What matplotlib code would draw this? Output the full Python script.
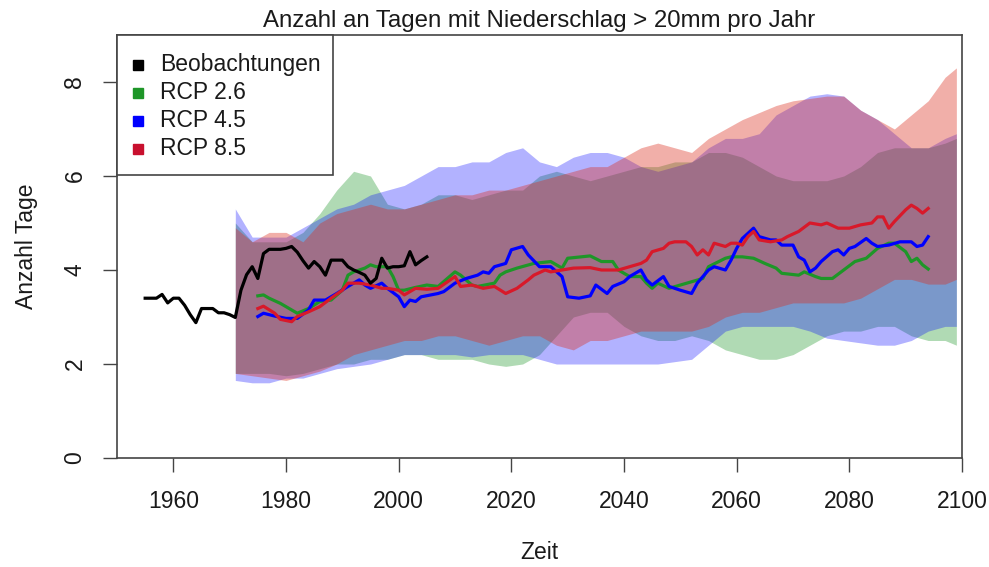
import numpy as np
import matplotlib
matplotlib.use("Agg")
import matplotlib.pyplot as plt
from matplotlib.patches import Rectangle

plt.rcParams['font.family'] = ['Liberation Sans', 'DejaVu Sans']

# ---------------- data ----------------
obs_years = list(range(1955, 2006))
obs_values = [3.40, 3.40, 3.40, 3.48, 3.30, 3.40, 3.40, 3.25, 3.05, 2.88,
              3.18, 3.18, 3.18, 3.09, 3.09, 3.05, 2.99, 3.57, 3.90, 4.07,
              3.82, 4.35, 4.44, 4.44, 4.44, 4.46, 4.50, 4.38, 4.20, 4.04,
              4.18, 4.07, 3.89, 4.21, 4.21, 4.21, 4.07, 4.00, 3.95, 3.89,
              3.72, 3.82, 4.25, 4.04, 4.07, 4.07, 4.09, 4.39, 4.11, 4.20, 4.28]

rcp26_years = [1975, 1976, 1977, 1979, 1981, 1982, 1984, 1986, 1988, 1990, 1991, 1992, 1994, 1995,
               1996, 1998, 1999, 2000, 2001, 2003, 2005, 2007, 2010, 2011, 2013, 2014, 2017, 2018,
               2019, 2021, 2024, 2027, 2029, 2030, 2034, 2036, 2038, 2039, 2041, 2043, 2044, 2045,
               2046, 2048, 2050, 2052, 2054, 2055, 2058, 2059, 2061, 2063, 2065, 2067, 2068, 2071,
               2072, 2074, 2075, 2077, 2079, 2081, 2083, 2085, 2087, 2088, 2090, 2091, 2092, 2093, 2094]
rcp26_values = [3.45, 3.47, 3.40, 3.29, 3.15, 3.08, 3.18, 3.33, 3.36, 3.57, 3.89, 3.96, 4.04, 4.11,
                4.07, 4.07, 3.86, 3.57, 3.57, 3.63, 3.68, 3.65, 3.96, 3.89, 3.68, 3.65, 3.72, 3.89,
                3.96, 4.04, 4.14, 4.18, 4.04, 4.25, 4.30, 4.18, 4.18, 4.00, 3.86, 3.86, 3.72, 3.61,
                3.72, 3.61, 3.68, 3.75, 3.82, 4.07, 4.25, 4.28, 4.28, 4.25, 4.14, 4.04, 3.93, 3.89,
                3.96, 3.86, 3.82, 3.82, 4.00, 4.18, 4.25, 4.46, 4.57, 4.57, 4.39, 4.18, 4.25, 4.11, 4.02]

rcp45_years = [1975, 1976, 1978, 1980, 1982, 1984, 1985, 1987, 1989, 1991, 1993, 1994, 1995, 1997,
               1998, 2000, 2001, 2002, 2003, 2004, 2007, 2008, 2010, 2012, 2014, 2015, 2016, 2017,
               2019, 2020, 2022, 2023, 2025, 2027, 2029, 2030, 2032, 2034, 2035, 2037, 2038, 2040,
               2041, 2043, 2044, 2045, 2047, 2048, 2050, 2052, 2053, 2055, 2056, 2058, 2059, 2060,
               2061, 2063, 2064, 2066, 2067, 2068, 2070, 2071, 2072, 2073, 2074, 2075, 2077, 2078,
               2079, 2080, 2081, 2083, 2084, 2085, 2087, 2089, 2091, 2092, 2093, 2094]
rcp45_values = [3.01, 3.08, 3.02, 2.97, 2.97, 3.15, 3.36, 3.36, 3.50, 3.65, 3.79, 3.68, 3.61, 3.72,
                3.61, 3.43, 3.22, 3.36, 3.33, 3.43, 3.50, 3.54, 3.72, 3.82, 3.89, 3.96, 3.93, 4.07,
                4.14, 4.43, 4.50, 4.32, 4.07, 4.07, 3.86, 3.43, 3.40, 3.45, 3.68, 3.50, 3.65, 3.75,
                3.86, 4.00, 3.79, 3.68, 3.86, 3.65, 3.57, 3.50, 3.72, 4.00, 4.07, 4.00, 4.21, 4.46,
                4.67, 4.89, 4.71, 4.64, 4.64, 4.53, 4.53, 4.28, 4.21, 3.96, 4.04, 4.18, 4.39, 4.43,
                4.32, 4.46, 4.50, 4.67, 4.57, 4.50, 4.53, 4.60, 4.60, 4.50, 4.53, 4.71]

rcp85_years = [1975, 1976, 1978, 1979, 1981, 1982, 1984, 1986, 1988, 1990, 1991, 1993, 1995, 1997,
               1998, 2000, 2001, 2003, 2005, 2007, 2010, 2011, 2013, 2015, 2017, 2019, 2021, 2023,
               2024, 2026, 2027, 2029, 2031, 2034, 2036, 2039, 2041, 2043, 2044, 2045, 2047, 2048,
               2049, 2051, 2052, 2053, 2054, 2055, 2056, 2058, 2059, 2060, 2061, 2062, 2063, 2064,
               2066, 2068, 2069, 2071, 2073, 2075, 2076, 2078, 2080, 2082, 2084, 2085, 2086, 2087,
               2088, 2090, 2091, 2092, 2093, 2094]
rcp85_values = [3.18, 3.23, 3.08, 2.95, 2.90, 3.01, 3.11, 3.22, 3.40, 3.57, 3.72, 3.72, 3.68, 3.61,
                3.61, 3.57, 3.47, 3.61, 3.59, 3.61, 3.86, 3.65, 3.68, 3.61, 3.65, 3.50, 3.61, 3.79,
                3.89, 4.00, 3.96, 4.00, 4.04, 4.05, 4.00, 4.00, 4.07, 4.14, 4.21, 4.39, 4.46, 4.57,
                4.60, 4.60, 4.50, 4.32, 4.43, 4.32, 4.57, 4.50, 4.57, 4.57, 4.53, 4.71, 4.82, 4.64,
                4.60, 4.64, 4.71, 4.82, 5.00, 4.96, 5.00, 4.89, 4.89, 4.96, 5.00, 5.13, 5.13, 4.89,
                5.03, 5.28, 5.38, 5.31, 5.21, 5.31]

band_years = [1971, 1974, 1977, 1980, 1983, 1986, 1989, 1992, 1995, 1998, 2001, 2004, 2007, 2010,
              2013, 2016, 2019, 2022, 2025, 2028, 2031, 2034, 2037, 2040, 2043, 2046, 2049, 2052,
              2055, 2058, 2061, 2064, 2067, 2070, 2073, 2076, 2079, 2082, 2085, 2088, 2091, 2094,
              2097, 2099]

rcp26_upper = [5.0, 4.6, 4.6, 4.6, 4.8, 5.2, 5.7, 6.1, 6.0, 5.4, 5.3, 5.4, 5.6, 5.6,
               5.5, 5.6, 5.7, 5.7, 6.0, 6.1, 6.0, 5.9, 6.0, 6.1, 6.2, 6.2, 6.3, 6.3,
               6.5, 6.5, 6.4, 6.2, 6.0, 5.9, 5.9, 5.9, 6.0, 6.2, 6.5, 6.6, 6.6, 6.6,
               6.7, 6.8]
rcp26_lower = [1.8, 1.8, 1.8, 1.75, 1.8, 1.9, 2.0, 2.0, 2.1, 2.1, 2.2, 2.2, 2.1, 2.1,
               2.1, 2.0, 1.95, 2.0, 2.2, 2.6, 3.0, 3.1, 3.1, 2.8, 2.6, 2.5, 2.5, 2.6,
               2.5, 2.3, 2.2, 2.1, 2.1, 2.2, 2.4, 2.6, 2.7, 2.7, 2.8, 2.8, 2.6, 2.5,
               2.5, 2.4]

rcp45_upper = [5.3, 4.7, 4.7, 4.7, 4.9, 5.1, 5.3, 5.4, 5.6, 5.7, 5.8, 6.0, 6.2, 6.2,
               6.3, 6.3, 6.5, 6.6, 6.3, 6.2, 6.4, 6.5, 6.5, 6.4, 6.2, 6.1, 6.2, 6.3,
               6.6, 6.8, 6.8, 6.9, 7.3, 7.5, 7.7, 7.75, 7.7, 7.4, 7.2, 6.9, 6.6, 6.6,
               6.8, 6.9]
rcp45_lower = [1.65, 1.6, 1.6, 1.7, 1.7, 1.8, 1.9, 1.95, 2.0, 2.1, 2.2, 2.2, 2.2, 2.2,
               2.15, 2.2, 2.2, 2.2, 2.1, 2.0, 2.0, 2.0, 2.0, 2.0, 2.0, 2.0, 2.05, 2.1,
               2.4, 2.7, 2.8, 2.8, 2.8, 2.8, 2.7, 2.55, 2.5, 2.45, 2.4, 2.4, 2.5, 2.7,
               2.8, 2.8]

rcp85_upper = [4.9, 4.6, 4.8, 4.8, 4.6, 5.0, 5.2, 5.3, 5.4, 5.3, 5.3, 5.4, 5.5, 5.6,
               5.6, 5.7, 5.7, 5.8, 5.9, 6.0, 6.1, 6.2, 6.2, 6.4, 6.6, 6.7, 6.6, 6.5,
               6.8, 7.0, 7.2, 7.35, 7.5, 7.6, 7.65, 7.7, 7.7, 7.4, 7.2, 7.0, 7.3, 7.6,
               8.1, 8.3]
rcp85_lower = [1.8, 1.75, 1.7, 1.65, 1.75, 1.85, 2.0, 2.2, 2.3, 2.4, 2.5, 2.5, 2.6, 2.6,
               2.5, 2.4, 2.5, 2.6, 2.6, 2.4, 2.3, 2.5, 2.5, 2.6, 2.7, 2.7, 2.7, 2.7,
               2.8, 3.0, 3.1, 3.1, 3.2, 3.3, 3.3, 3.3, 3.3, 3.4, 3.6, 3.8, 3.8, 3.7,
               3.7, 3.8]

x_ticks = [1960, 1980, 2000, 2020, 2040, 2060, 2080, 2100]
y_ticks = [0, 2, 4, 6, 8]
labels = ["Beobachtungen", "RCP 2.6", "RCP 4.5", "RCP 8.5"]

# ---------------- style ----------------
c_obs = "#000000"
c_26 = "#1E9628"
c_45 = "#0000FF"
c_85 = "#D8192A"
legend_colors = [c_obs, c_26, c_45, "#C8102E"]
band_26 = ("#1E9628", 0.35)
band_45 = ("#0000FF", 0.30)
band_85 = ("#DC2D1E", 0.38)
FS = 16.5
frame_col = "#444444"
W, H = 989, 567

fig = plt.figure(figsize=(W / 100, H / 100), dpi=100)
ax = fig.add_axes([117/W, 1-458/H, (962-117)/W, (458-35)/H])

ax.fill_between(band_years, rcp26_lower, rcp26_upper, color=band_26[0], alpha=band_26[1], lw=0)
ax.fill_between(band_years, rcp45_lower, rcp45_upper, color=band_45[0], alpha=band_45[1], lw=0)
ax.fill_between(band_years, rcp85_lower, rcp85_upper, color=band_85[0], alpha=band_85[1], lw=0)

lw = 2.3
ax.plot(rcp26_years, rcp26_values, color=c_26, lw=lw, solid_joinstyle='round')
ax.plot(rcp45_years, rcp45_values, color=c_45, lw=lw, solid_joinstyle='round')
ax.plot(rcp85_years, rcp85_values, color=c_85, lw=lw, solid_joinstyle='round')
ax.plot(obs_years, obs_values, color=c_obs, lw=lw, solid_joinstyle='round')

ax.set_xlim(1950, 2100)
ax.set_ylim(0, 9)
ax.set_xticks(x_ticks)
ax.set_yticks(y_ticks)
ax.tick_params(axis='both', direction='out', length=10, width=1.0, color=frame_col,
               labelsize=FS, labelcolor="#1a1a1a")
ax.tick_params(axis='x', pad=13)
ax.tick_params(axis='y', pad=12)
for lab in ax.get_yticklabels():
    lab.set_rotation(90)
    lab.set_va('center')
for sp in ax.spines.values():
    sp.set_color(frame_col)
    sp.set_linewidth(1.2)

ax.set_title("Anzahl an Tagen mit Niederschlag > 20mm pro Jahr", fontsize=17.3,
             color="#1a1a1a", pad=6)
ax.set_xlabel("Zeit", fontsize=FS, color="#1a1a1a", labelpad=20)
ax.set_ylabel("Anzahl Tage", fontsize=FS, color="#1a1a1a", labelpad=18)

# ---- R-style legend box (top-left corner of the plot region) ----
def fx(px):
    return px / W

def fy(py):
    return 1 - py / H

fig.patches.append(Rectangle((fx(117), fy(175)), fx(333) - fx(117), fy(35) - fy(175),
                             transform=fig.transFigure, facecolor="white",
                             edgecolor=frame_col, lw=1.2, zorder=5))
row_y = [65, 93, 121, 149]
for ry, lab, col in zip(row_y, labels, legend_colors):
    fig.add_artist(plt.Line2D([fx(138)], [fy(ry)], transform=fig.transFigure, ls='none',
                              marker='s', ms=7.5, color=col, zorder=6))
    fig.text(fx(160), fy(ry), lab, fontsize=FS, color="#1a1a1a", va='center', ha='left',
             zorder=6)

fig.savefig("out.png", dpi=100)
